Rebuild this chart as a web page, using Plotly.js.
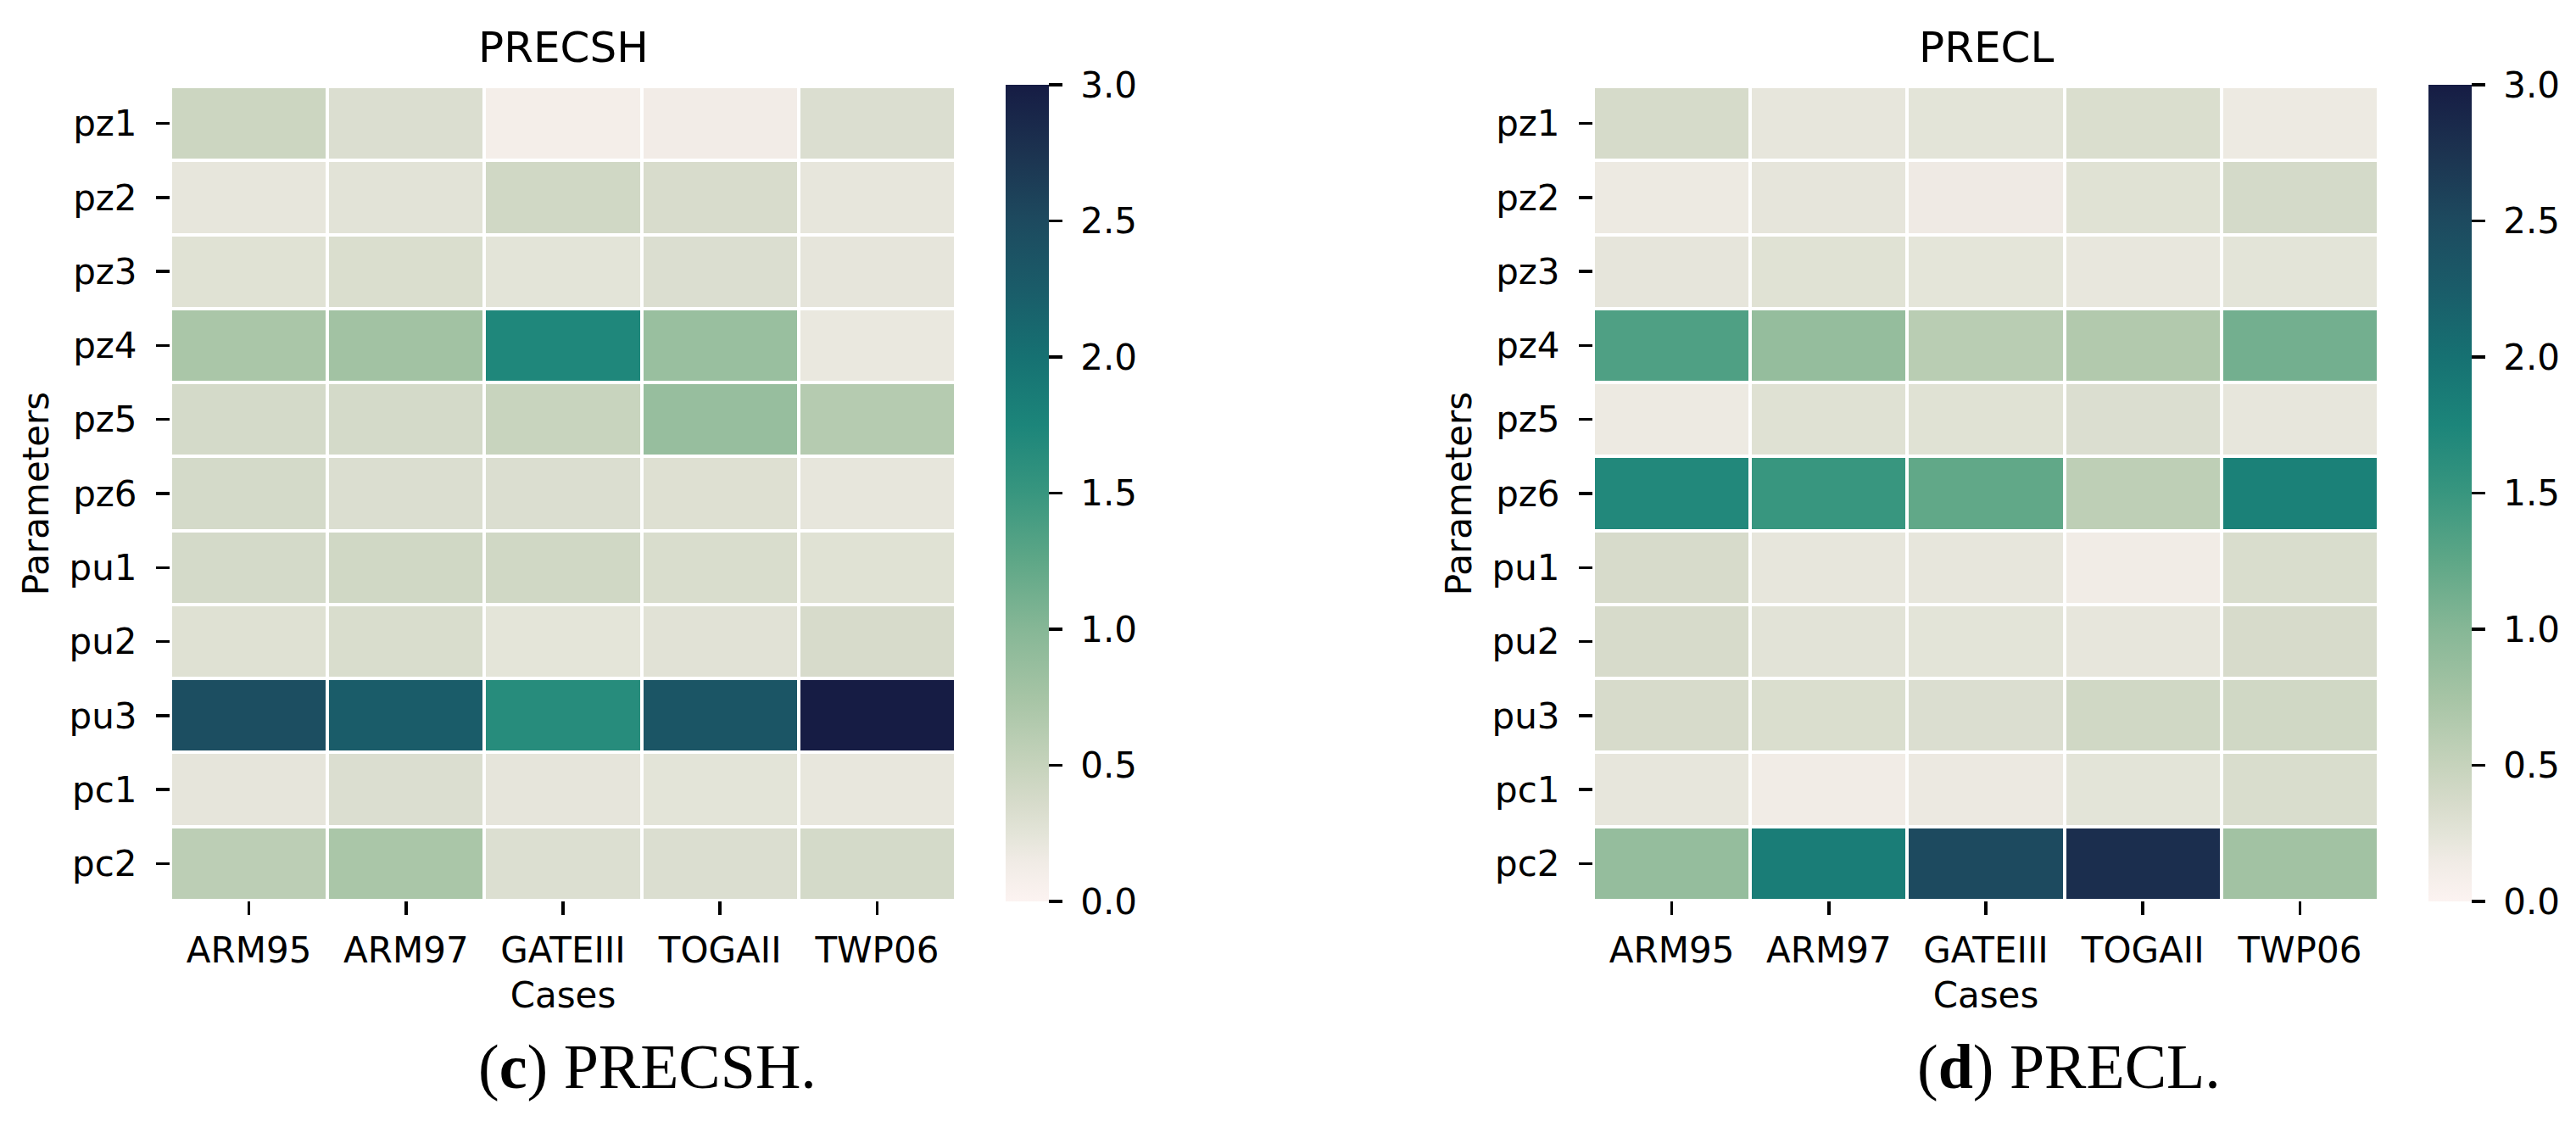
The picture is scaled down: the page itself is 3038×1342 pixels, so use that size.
<!DOCTYPE html>
<html>
<head>
<meta charset="utf-8">
<script src="https://cdn.plot.ly/plotly-3.0.1.min.js"></script>
<style>
  html, body { margin: 0; padding: 0; background: #ffffff; }
  #chart { width: 3038px; height: 1342px; }
</style>
</head>
<body>
<div id="chart"></div>
<script>
// ---- data ----
const cases = ["ARM95", "ARM97", "GATEIII", "TOGAII", "TWP06"];
const parameters = ["pz1", "pz2", "pz3", "pz4", "pz5", "pz6", "pu1", "pu2", "pu3", "pc1", "pc2"];

const precshValues = [
  [0.45, 0.32, 0.10, 0.13, 0.32],
  [0.22, 0.26, 0.42, 0.35, 0.22],
  [0.28, 0.33, 0.25, 0.32, 0.23],
  [0.72, 0.78, 1.72, 0.85, 0.20],
  [0.38, 0.38, 0.48, 0.87, 0.63],
  [0.38, 0.32, 0.32, 0.30, 0.22],
  [0.38, 0.42, 0.42, 0.34, 0.28],
  [0.29, 0.34, 0.24, 0.27, 0.36],
  [2.45, 2.25, 1.65, 2.35, 3.00],
  [0.23, 0.32, 0.23, 0.25, 0.21],
  [0.58, 0.72, 0.31, 0.32, 0.38]
];

const preclValues = [
  [0.37, 0.22, 0.25, 0.33, 0.17],
  [0.17, 0.23, 0.16, 0.28, 0.38],
  [0.23, 0.28, 0.24, 0.21, 0.25],
  [1.35, 0.88, 0.60, 0.66, 1.12],
  [0.17, 0.29, 0.28, 0.32, 0.22],
  [1.70, 1.50, 1.23, 0.56, 1.80],
  [0.36, 0.22, 0.22, 0.14, 0.34],
  [0.36, 0.26, 0.25, 0.22, 0.36],
  [0.36, 0.33, 0.32, 0.42, 0.42],
  [0.22, 0.14, 0.18, 0.25, 0.34],
  [0.88, 1.85, 2.50, 2.80, 0.78]
];

const colorTicks = [0, 0.5, 1.0, 1.5, 2.0, 2.5, 3.0];

// ---- styling ----
const W = 3038, H = 1342;
const px = v => v / W;
const py = v => 1 - v / H;

const cmapStops = [
  [0.00, "#fcf3f1"], [0.15, "#f0ebe5"], [0.25, "#e3e4d8"], [0.35, "#d8dccc"],
  [0.50, "#c6d3bc"], [0.75, "#a6c4a5"], [1.00, "#86b796"], [1.25, "#5ea787"],
  [1.50, "#38967f"], [1.75, "#1c857a"], [2.00, "#167172"], [2.25, "#1a5c69"],
  [2.50, "#1d4a5f"], [2.75, "#1c3350"], [3.00, "#161c44"]
];
const colorscale = cmapStops.map(s => [s[0] / 3, s[1]]);

const sans = "DejaVu Sans";
const tickFont = { family: sans, size: 42, color: "#000000" };

function colorbarAt(xLeft) {
  return {
    x: px(xLeft), xanchor: "left", xpad: 0,
    y: py(1063), yanchor: "bottom", ypad: 0,
    len: 963, lenmode: "pixels",
    thickness: 51, thicknessmode: "pixels",
    outlinewidth: 0,
    tickmode: "array", tickvals: colorTicks,
    ticktext: colorTicks.map(v => "\u00a0" + v.toFixed(1)),
    ticks: "outside", ticklen: 16, tickwidth: 3.5, tickcolor: "#000000",
    tickfont: tickFont
  };
}

function heat(z, xa, ya, cbx) {
  return {
    type: "heatmap",
    x: cases, y: parameters, z: z,
    xaxis: xa, yaxis: ya,
    zmin: 0, zmax: 3,
    colorscale: colorscale,
    xgap: 4, ygap: 4,
    colorbar: colorbarAt(cbx),
    hoverongaps: false
  };
}

const data = [
  heat(precshValues, "x", "y", 1186),
  heat(preclValues, "x2", "y2", 2864)
];

function xAxis(d0, d1, anchor) {
  return {
    domain: [px(d0), px(d1)], anchor: anchor,
    type: "category", categoryorder: "array", categoryarray: cases,
    showgrid: false, zeroline: false, showline: false,
    ticks: "outside", ticklen: 16, tickwidth: 3.5, tickcolor: "#000000",
    tickfont: tickFont, ticklabelstandoff: 6,
    title: { text: "Cases", font: { family: sans, size: 42, color: "#000000" }, standoff: 14 },
    automargin: false, fixedrange: true
  };
}
function yAxis(anchor) {
  return {
    domain: [py(1062), py(102)], anchor: anchor,
    type: "category", categoryorder: "array", categoryarray: parameters,
    autorange: "reversed",
    showgrid: false, zeroline: false, showline: false,
    ticks: "outside", ticklen: 16, tickwidth: 3.5, tickcolor: "#000000",
    tickfont: tickFont, ticklabelstandoff: 14,
    title: { text: "Parameters", font: { family: sans, size: 42, color: "#000000" }, standoff: 10 },
    automargin: false, fixedrange: true
  };
}

const layout = {
  width: W, height: H,
  margin: { l: 0, r: 0, t: 0, b: 0, pad: 0 },
  paper_bgcolor: "#ffffff", plot_bgcolor: "#ffffff",
  showlegend: false,
  xaxis: xAxis(201, 1127, "y"),
  yaxis: yAxis("x"),
  xaxis2: xAxis(1879, 2805, "y2"),
  yaxis2: yAxis("x2"),
  annotations: [
    { text: "PRECSH", x: px(664), y: py(56), xref: "paper", yref: "paper",
      xanchor: "center", yanchor: "middle", showarrow: false,
      font: { family: sans, size: 50, color: "#000000" } },
    { text: "PRECL", x: px(2342), y: py(56), xref: "paper", yref: "paper",
      xanchor: "center", yanchor: "middle", showarrow: false,
      font: { family: sans, size: 50, color: "#000000" } },
    { text: "(<b>c</b>) PRECSH.", x: px(763), y: py(1258), xref: "paper", yref: "paper",
      xanchor: "center", yanchor: "middle", showarrow: false,
      font: { family: "Liberation Serif", size: 74, color: "#000000" } },
    { text: "(<b>d</b>) PRECL.", x: px(2440), y: py(1258), xref: "paper", yref: "paper",
      xanchor: "center", yanchor: "middle", showarrow: false,
      font: { family: "Liberation Serif", size: 74, color: "#000000" } }
  ]
};

Plotly.newPlot("chart", data, layout, { displayModeBar: false, staticPlot: true });
</script>
</body>
</html>
